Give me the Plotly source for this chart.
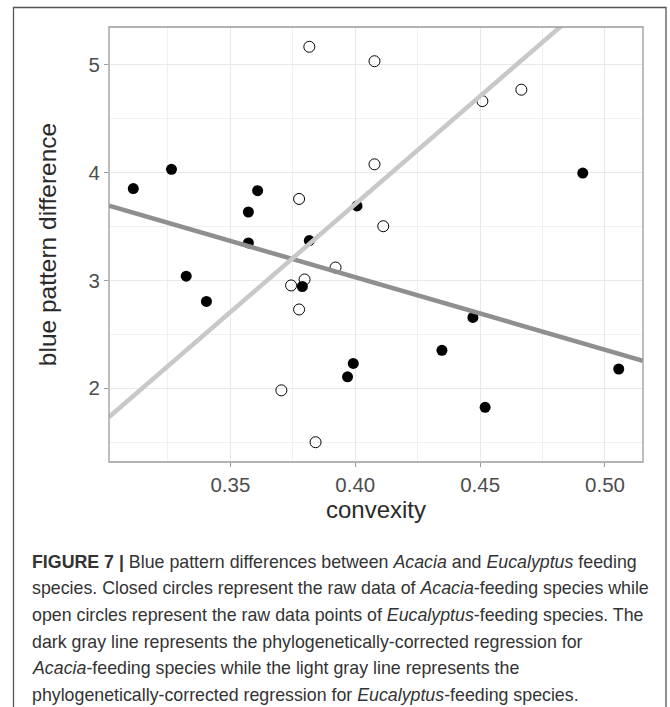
import plotly.graph_objects as go

# ---------------- data ----------------
acacia_x = [0.3111, 0.3264, 0.3323, 0.3404, 0.3572, 0.3572, 0.3609, 0.3788, 0.3816,
            0.3969, 0.3992, 0.4007, 0.4347, 0.4471, 0.4520, 0.4911, 0.5055]
acacia_y = [3.852, 4.031, 3.040, 2.806, 3.635, 3.348, 3.833, 2.944, 3.370,
            2.107, 2.231, 3.691, 2.352, 2.657, 1.824, 3.996, 2.179]

euc_x = [0.3704, 0.3743, 0.3775, 0.3775, 0.3797, 0.3816, 0.3841, 0.3921, 0.4077,
         0.4077, 0.4112, 0.4509, 0.4665]
euc_y = [1.981, 2.954, 3.756, 2.731, 3.009, 5.167, 1.500, 3.120, 5.033,
         4.077, 3.503, 4.663, 4.769]

# phylogenetically-corrected regressions (intercept, slope)
acacia_fit = (5.718, -6.72)
euc_fit = (-4.30, 20.02)

x_ticks = [0.35, 0.40, 0.45, 0.50]
x_tick_labels = ["0.35", "0.40", "0.45", "0.50"]
y_ticks = [2, 3, 4, 5]
y_tick_labels = ["2", "3", "4", "5"]

caption_lines = [
    "<b>FIGURE 7 |</b> Blue pattern differences between <i>Acacia</i> and <i>Eucalyptus</i> feeding",
    "species. Closed circles represent the raw data of <i>Acacia</i>-feeding species while",
    "open circles represent the raw data points of <i>Eucalyptus</i>-feeding species. The",
    "dark gray line represents the phylogenetically-corrected regression for",
    "<i>Acacia</i>-feeding species while the light gray line represents the",
    "phylogenetically-corrected regression for <i>Eucalyptus</i>-feeding species.",
]

# ---------------- layout geometry ----------------
W, H = 670, 707
L, R, T, B = 109, 27, 27, 245
pw, ph = W - L - R, H - T - B

def px_x(p):
    return (p - L) / pw

def px_y(p):
    return (H - B - p) / ph

# axis ranges (ggplot 5% expansion)
def expand(vals):
    lo, hi = min(vals), max(vals)
    d = (hi - lo) * 0.05
    return [lo - d, hi + d]

x_range = expand(acacia_x + euc_x)
y_range = expand(acacia_y + euc_y)

FONT = "Liberation Sans"

fig = go.Figure()

fig.add_trace(go.Scatter(
    x=acacia_x, y=acacia_y, mode="markers", name="Acacia",
    marker=dict(symbol="circle", size=11, color="black", line=dict(width=0)),
))
fig.add_trace(go.Scatter(
    x=euc_x, y=euc_y, mode="markers", name="Eucalyptus",
    marker=dict(symbol="circle-open", size=11, color="black", line=dict(width=1)),
))

for (a, b), col in [(acacia_fit, "#8f8f8f"), (euc_fit, "#c8c8c8")]:
    xs = [x_range[0], x_range[1]]
    fig.add_trace(go.Scatter(
        x=xs, y=[a + b * v for v in xs], mode="lines",
        line=dict(color=col, width=4.5), hoverinfo="skip",
    ))

axis_common = dict(
    showline=False, zeroline=False, ticks="outside", ticklen=4, tickwidth=1,
    tickcolor="#9a9a9a", gridcolor="#e8e8e8", gridwidth=1,
    tickfont=dict(family=FONT, size=20.5, color="#4d4d4d"),
    mirror=False,
)

fig.update_xaxes(
    range=x_range, tickvals=x_ticks, ticktext=x_tick_labels,
    minor=dict(dtick=0.025, tick0=0.325, showgrid=True, gridcolor="#f0f0f0", ticks=""),
    title=dict(text="convexity", font=dict(family=FONT, size=24, color="#2a2a2a"),
               standoff=4),
    **axis_common,
)
fig.update_yaxes(
    range=y_range, tickvals=y_ticks, ticktext=y_tick_labels,
    minor=dict(dtick=0.5, tick0=1.5, showgrid=True, gridcolor="#f0f0f0", ticks=""),
    title=dict(text="blue pattern difference", font=dict(family=FONT, size=24.5, color="#2a2a2a"),
               standoff=24),
    **axis_common,
)

shapes = [
    # panel border
    dict(type="rect", xref="paper", yref="paper", x0=0, x1=1, y0=0, y1=1,
         line=dict(color="#9a9a9a", width=1.3), layer="above"),
    # outer figure frame (open at the bottom edge of the image)
    dict(type="rect", xref="paper", yref="paper",
         x0=px_x(13.5), x1=px_x(666), y0=px_y(730), y1=px_y(7.5),
         line=dict(color="#555555", width=1.3), layer="above"),
]

annotations = []
for i, txt in enumerate(caption_lines):
    yc = 561.7 + i * 26.6
    annotations.append(dict(
        text=txt, xref="paper", yref="paper", x=px_x(30), y=px_y(yc),
        xanchor="left", yanchor="middle", showarrow=False, align="left",
        font=dict(family=FONT, size=17.8, color="#333333"),
    ))

fig.update_layout(
    width=W, height=H, margin=dict(l=L, r=R, t=T, b=B, autoexpand=False),
    paper_bgcolor="white", plot_bgcolor="white", showlegend=False,
    shapes=shapes, annotations=annotations,
)

fig.write_html(
    "out.html",
    config={"displayModeBar": False},
    post_script="document.body.style.margin='0px';document.body.style.overflow='hidden';",
)
